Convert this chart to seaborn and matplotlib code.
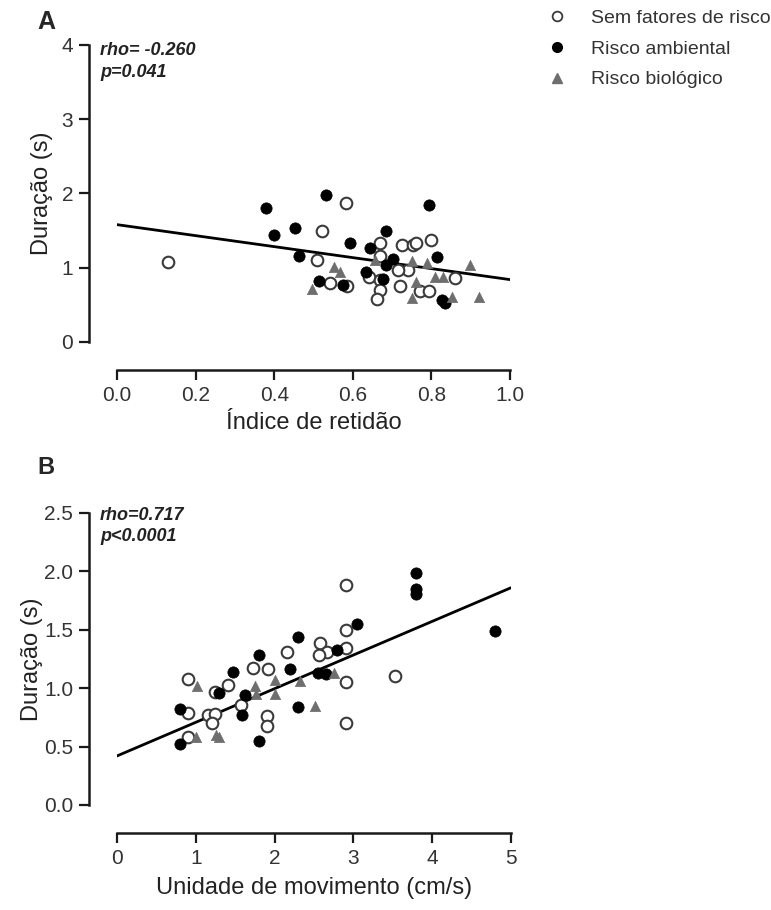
import numpy as np
import pandas as pd
import matplotlib
matplotlib.use("Agg")
import matplotlib.pyplot as plt
import seaborn as sns
from matplotlib.lines import Line2D

# ---------------- data ----------------
groups = ["Sem fatores de risco", "Risco ambiental", "Risco biológico"]

# Panel A: índice de retidão vs duração
a_sem_x = [0.13, 0.582, 0.521, 0.51, 0.542, 0.584, 0.64, 0.669, 0.669, 0.669, 0.669, 0.661,
           0.724, 0.754, 0.762, 0.80, 0.741, 0.716, 0.72, 0.771, 0.795, 0.86]
a_sem_y = [1.08, 1.87, 1.50, 1.11, 0.79, 0.76, 0.88, 1.33, 1.16, 0.84, 0.70, 0.58,
           1.31, 1.30, 1.33, 1.38, 0.97, 0.97, 0.76, 0.69, 0.69, 0.86]
a_amb_x = [0.38, 0.40, 0.453, 0.464, 0.532, 0.794, 0.593, 0.684, 0.644, 0.515, 0.574, 0.634,
           0.678, 0.684, 0.703, 0.813, 0.826, 0.835]
a_amb_y = [1.81, 1.44, 1.54, 1.16, 1.98, 1.85, 1.33, 1.49, 1.27, 0.82, 0.77, 0.94,
           0.85, 1.04, 1.12, 1.15, 0.57, 0.53]
a_bio_x = [0.497, 0.551, 0.567, 0.656, 0.75, 0.788, 0.898, 0.762, 0.75, 0.809, 0.83, 0.852, 0.922]
a_bio_y = [0.72, 1.01, 0.94, 1.11, 1.09, 1.07, 1.03, 0.81, 0.59, 0.87, 0.87, 0.60, 0.61]
a_fit_x = [0.0, 1.0]
a_fit_y = [1.58, 0.84]

# Panel B: unidade de movimento vs duração
b_sem_x = [2.906, 2.906, 2.576, 2.906, 2.66, 2.563, 2.153, 1.73, 1.91, 3.53, 2.906, 1.41,
           0.905, 1.244, 1.57, 0.905, 1.16, 1.24, 1.90, 0.90, 1.20, 1.90, 2.90]
b_sem_y = [1.88, 1.50, 1.39, 1.34, 1.31, 1.28, 1.31, 1.17, 1.16, 1.10, 1.05, 1.03,
           1.08, 0.97, 0.86, 0.79, 0.77, 0.78, 0.76, 0.58, 0.70, 0.68, 0.70]
b_amb_x = [3.79, 3.79, 3.79, 4.80, 3.05, 2.30, 2.796, 1.80, 2.195, 2.555, 2.65, 1.476,
           1.30, 1.62, 2.30, 0.80, 1.58, 0.80, 1.80]
b_amb_y = [1.99, 1.85, 1.81, 1.49, 1.55, 1.44, 1.33, 1.28, 1.16, 1.13, 1.12, 1.14,
           0.96, 0.94, 0.84, 0.82, 0.77, 0.52, 0.55]
b_bio_x = [2.75, 2.32, 2.005, 2.005, 1.75, 1.76, 1.01, 2.51, 1.00, 1.25, 1.30]
b_bio_y = [1.13, 1.06, 1.07, 0.95, 1.02, 0.95, 1.02, 0.85, 0.58, 0.60, 0.58]
b_fit_x = [0.0, 5.0]
b_fit_y = [0.42, 1.86]

a_xticks = [0.0, 0.2, 0.4, 0.6, 0.8, 1.0]
a_xticklabels = ["0.0", "0.2", "0.4", "0.6", "0.8", "1.0"]
a_yticks = [0, 1, 2, 3, 4]
b_xticks = [0, 1, 2, 3, 4, 5]
b_yticks = [0.0, 0.5, 1.0, 1.5, 2.0, 2.5]
b_yticklabels = ["0.0", "0.5", "1.0", "1.5", "2.0", "2.5"]

# ---------------- style ----------------
sns.set_theme(style="ticks")
plt.rcParams["font.family"] = ["Liberation Sans", "DejaVu Sans"]
plt.rcParams["axes.linewidth"] = 1.8
plt.rcParams["xtick.major.width"] = 1.6
plt.rcParams["ytick.major.width"] = 1.6
plt.rcParams["xtick.major.size"] = 7.5
plt.rcParams["ytick.major.size"] = 7.5
plt.rcParams["axes.edgecolor"] = "#1a1a1a"
plt.rcParams["xtick.color"] = "#1a1a1a"
plt.rcParams["ytick.color"] = "#1a1a1a"

fig = plt.figure(figsize=(7.71, 9.10), dpi=100)
axA = fig.add_axes([0.1518, 0.6242, 0.5097, 0.3264])
axB = fig.add_axes([0.1518, 0.1154, 0.5110, 0.3209])

styles = {
    "Sem fatores de risco": dict(marker="o", color="white", edgecolor="#3a3a3a", linewidth=1.5, s=70),
    "Risco ambiental": dict(marker="o", color="black", edgecolor="black", linewidth=0.5, s=66),
    "Risco biológico": dict(marker="^", color="#6e6e6e", edgecolor="#6e6e6e", linewidth=0.5, s=55),
}


def panel(ax, sets, fit_x, fit_y):
    for name, (xs, ys) in zip(groups, sets):
        df = pd.DataFrame({"x": xs, "y": ys})
        sns.scatterplot(data=df, x="x", y="y", ax=ax, clip_on=False, zorder=3,
                        legend=False, **styles[name])
    sns.lineplot(x=fit_x, y=fit_y, ax=ax, color="black", linewidth=2.0, zorder=2)


panel(axA, [(a_sem_x, a_sem_y), (a_amb_x, a_amb_y), (a_bio_x, a_bio_y)], a_fit_x, a_fit_y)
panel(axB, [(b_sem_x, b_sem_y), (b_amb_x, b_amb_y), (b_bio_x, b_bio_y)], b_fit_x, b_fit_y)

axA.set_xlim(0, 1)
axA.set_ylim(0, 4)
axA.set_xticks(a_xticks)
axA.set_xticklabels(a_xticklabels)
axA.set_yticks(a_yticks)
axB.set_xlim(0, 5)
axB.set_ylim(0, 2.5)
axB.set_xticks(b_xticks)
axB.set_yticks(b_yticks)
axB.set_yticklabels(b_yticklabels)

for ax, xl in [(axA, "Índice de retidão"), (axB, "Unidade de movimento (cm/s)")]:
    sns.despine(ax=ax, offset=20)
    ax.set_facecolor("white")
    ax.tick_params(labelsize=15, labelcolor="#333333", pad=4)
    ax.set_xlabel(xl, fontsize=17, color="#222222")
    ax.set_ylabel("Duração (s)", fontsize=17, color="#222222")
    ax.xaxis.set_label_coords(0.5, -0.235)

axA.yaxis.set_label_coords(-0.163, 0.5)
axB.yaxis.set_label_coords(-0.188, 0.5)
axB.xaxis.set_label_coords(0.5, -0.245)

txt_kw = dict(fontsize=13, fontweight="bold", fontstyle="italic", color="#222222",
              ha="left", va="center")
axA.text(-0.043, 0.983, "rho= -0.260", transform=axA.transAxes, **txt_kw)
axA.text(-0.043, 0.906, "p=0.041", transform=axA.transAxes, **txt_kw)
axB.text(-0.043, 0.993, "rho=0.717", transform=axB.transAxes, **txt_kw)
axB.text(-0.043, 0.918, "p<0.0001", transform=axB.transAxes, **txt_kw)

fig.text(0.048, 0.976, "A", fontsize=18, fontweight="bold", va="center", ha="left")
fig.text(0.048, 0.486, "B", fontsize=17, fontweight="bold", va="center", ha="left")

handles = [
    Line2D([], [], linestyle="none", marker="o", markersize=7, markerfacecolor="white",
           markeredgecolor="#3a3a3a", markeredgewidth=1.3),
    Line2D([], [], linestyle="none", marker="o", markersize=7, markerfacecolor="black",
           markeredgecolor="black"),
    Line2D([], [], linestyle="none", marker="^", markersize=6.5, markerfacecolor="#6e6e6e",
           markeredgecolor="#6e6e6e"),
]
fig.legend(handles, groups, loc="upper left", bbox_to_anchor=(0.710, 0.990),
           frameon=False, fontsize=14, handlelength=1.0, handletextpad=1.25,
           labelspacing=0.68, borderpad=0, borderaxespad=0, labelcolor="#333333")

fig.savefig("out.png", dpi=100, facecolor="white")
